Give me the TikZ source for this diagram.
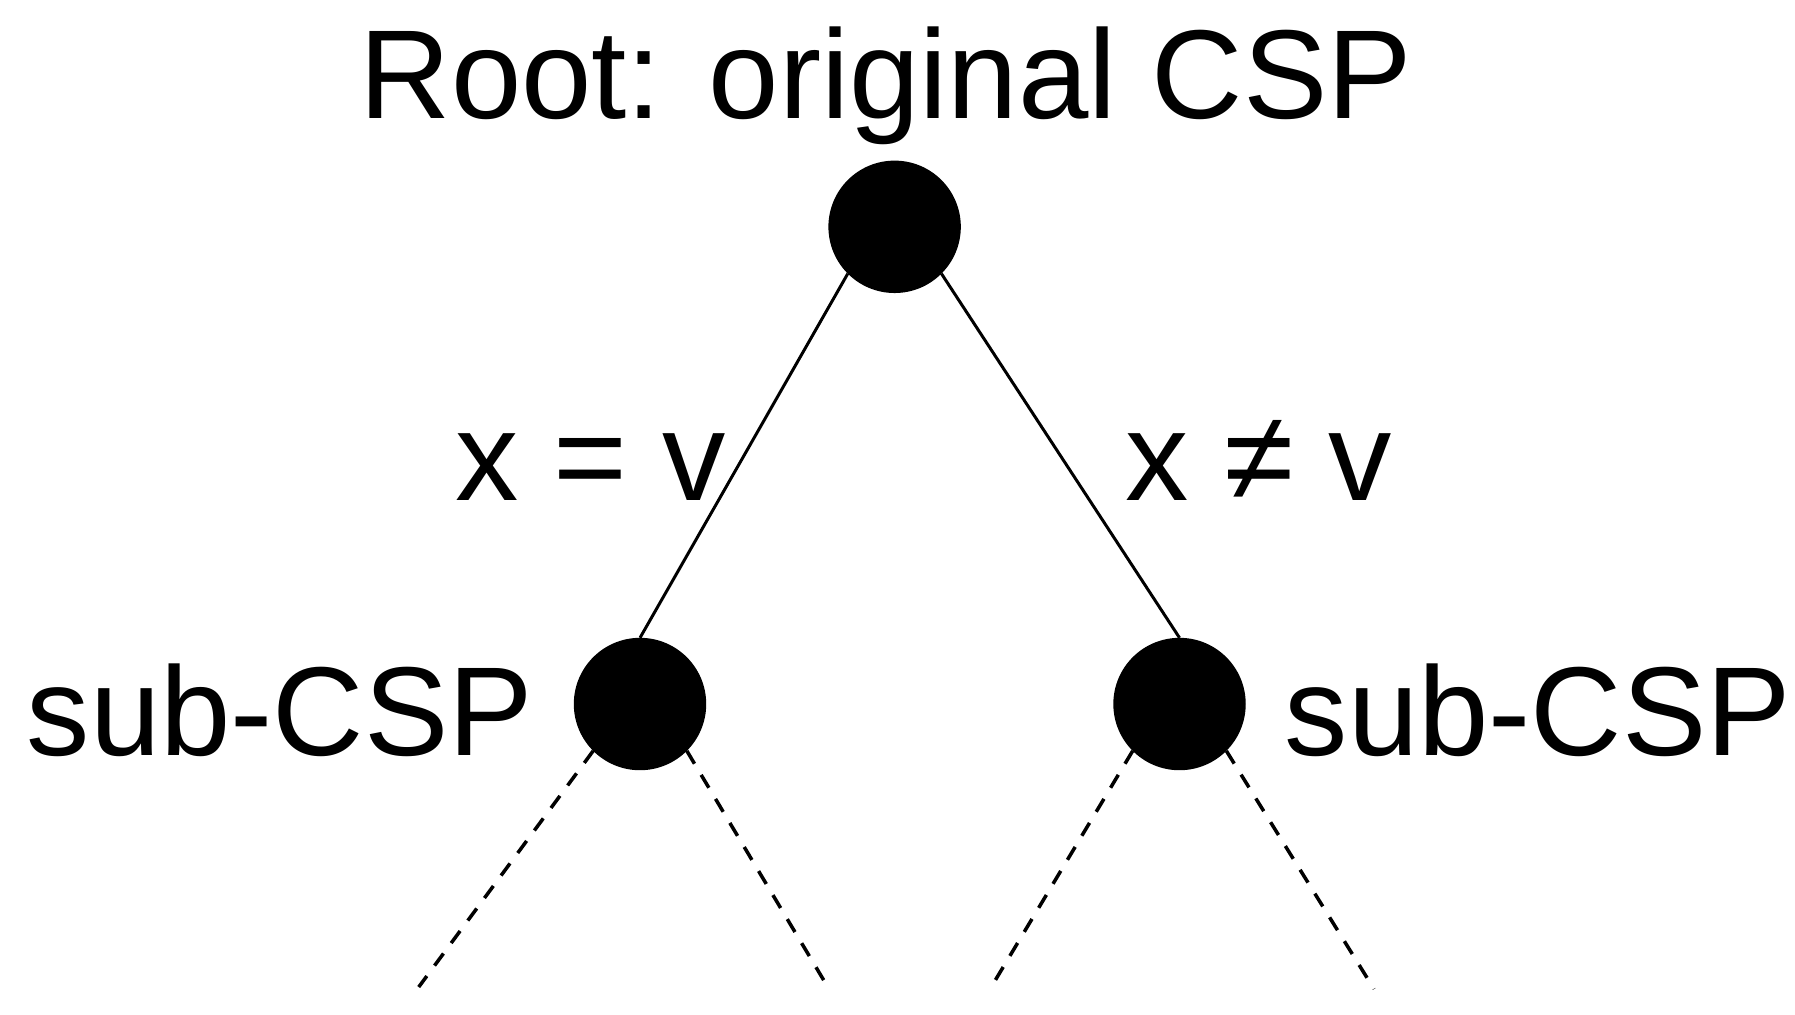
\documentclass[tikz,border=0pt]{standalone}
\usepackage{fontspec}
\setmainfont{Liberation Sans}
\usepackage{tikz}
\tikzstyle{blackdot}=[circle,draw=black,fill=black,
                      inner sep=0pt,minimum size=13.1mm]
\tikzstyle{biglabel}=[anchor=base,inner sep=0pt,
                      font=\fontsize{36}{44}\selectfont]
\tikzstyle{branch}=[line width=0.85pt]
\tikzstyle{subtree}=[line width=1pt,dash pattern=on 1.5mm off 1.3mm]

\begin{document}
\begin{tikzpicture}[x=0.1mm,y=-0.1mm]
    \useasboundingbox (0,0) rectangle (1795,1014);
    \node (title) at (886,118) [biglabel]{Root: original CSP};
    \node (r)  at (894.6,226.8) [blackdot]{};
    \node (s1) at (640,704)     [blackdot]{};
    \node (s2) at (1179.5,704)  [blackdot]{};
    \node (eq)  at (590.7,500) [biglabel]{x = v};
    \node (neq) at (1259,500)  [biglabel]{x ≠ v};
    \node (l1) at (280,755)    [biglabel]{sub-CSP};
    \node (l2) at (1538,755)   [biglabel]{sub-CSP};
    \coordinate (t1) at (418.7,987);
    \coordinate (t2) at (829,989);
    \coordinate (t3) at (990,989);
    \coordinate (t4) at (1374,989);
    \draw[branch] (r.225) -- (s1.north);
    \draw[branch] (r.315) -- (s2.north);
    \draw[subtree] (s1.225) -- (t1);
    \draw[subtree] (s1.315) -- (t2);
    \draw[subtree] (s2.225) -- (t3);
    \draw[subtree] (s2.315) -- (t4);
  \end{tikzpicture}
\end{document}
